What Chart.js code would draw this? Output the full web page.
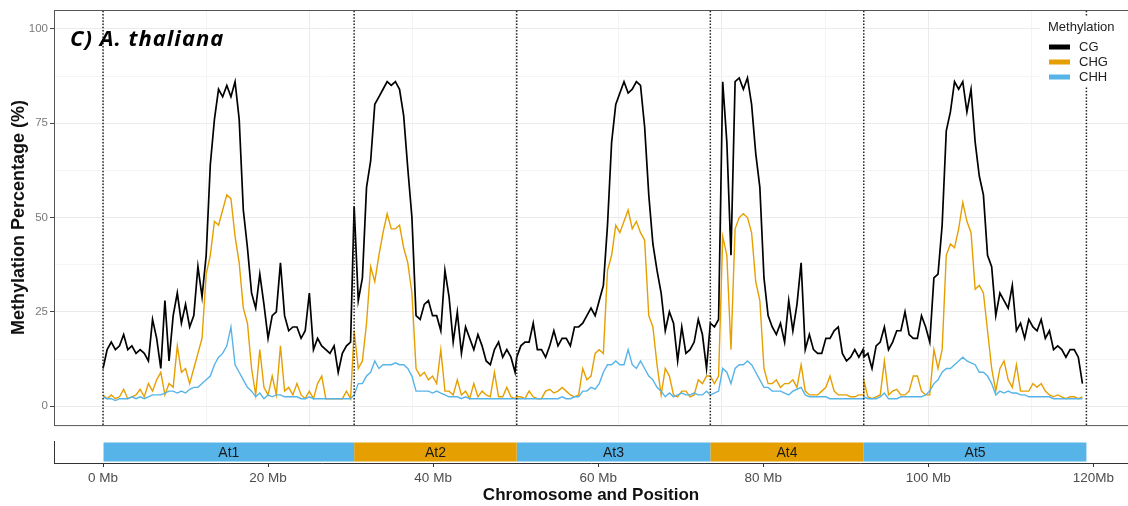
<!DOCTYPE html>
<html>
<head>
<meta charset="utf-8">
<script src="https://cdn.jsdelivr.net/npm/chart.js@4.4.1/dist/chart.umd.min.js"></script>
<style>
  body { margin: 0; background: #fff; }
  #wrap { position: relative; width: 1128px; height: 506px; }
  #mainChart { position: absolute; left: 0; top: 0; }
  #chromChart { position: absolute; left: 0; top: 430px; }
</style>
</head>
<body>
<div id="wrap">
  <canvas id="mainChart" width="1128" height="434"></canvas>
  <canvas id="chromChart" width="1128" height="76"></canvas>
</div>
<script>
// chromosomes (Mb)
var chromNames = ['At1', 'At2', 'At3', 'At4', 'At5'];
var chromStarts = [0, 30.43, 50.13, 73.59, 92.18];
var chromEnds = [30.43, 50.13, 73.59, 92.18, 119.16];
var chromColors = ['#56B4E9', '#E69F00', '#56B4E9', '#E69F00', '#56B4E9'];
var BIN_MB = 0.5;

// CG methylation (%) per chromosome, 0.5 Mb bins
var cgAt1 = [10,15,17,15,16,19,15,16,14,15, 14,12,23,18,10,28,12,24,30,22, 27,21,24,37,29,40,64,76,84,82, 85,82,86,76,52,42,30,26,35,27, 18,24,25,38,24,20,21,21,18,20, 30,15,18,16,15,14,16,9,14,16, 17];
var cgAt2 = [53,28,34,58,65,80,82,84,86,85, 86,84,77,63,50,24,23,27,28,24, 24,20,36,29,17,25,14,21,18,15, 19,16,12,11,15,17,13,15,13,9];
var cgAt3 = [13,16,17,17,22,15,15,13,16,20, 16,18,18,16,21,21,22,24,26,24, 28,32,48,70,80,83,86,83,84,86, 85,74,56,43,36,30,20,25,22,12, 21,14,15,17,23,19,10];
var cgAt4 = [22,21,23,86,70,40,86,87,84,87, 80,67,58,34,24,21,19,22,17,28, 20,27,38,15,19,15,14,14,18,18, 20,21,14,12,13,15,13,15];
var cgAt5 = [13,14,10,16,17,21,15,17,20,20, 25,19,18,18,24,21,17,34,35,48, 73,78,86,84,86,78,84,70,61,56, 40,37,24,30,28,26,32,20,22,18, 23,21,20,23,18,20,15,16,15,13, 15,15,13,6];

// CHG methylation (%)
var chgAt1 = [3,2,3,2,2.5,4.5,2,2.5,3,4.5, 2.5,6,4,7,9,3,6,5,16,9, 10,6,10,14,18,35,40,49,48,52, 56,55,45,38,26,22,10,3,15,5, 3,8,3,16,4,5,3,6,3,2, 4,2,6,8,2,2,2,2,2,4, 2];
var chgAt2 = [20,10,12,22,37,33,40,46,51,47, 47,48,42,38,30,10,8,9,7,8, 6,15,4,4,3,7,3,4,2,6, 2.5,4,3,2.5,9,2.5,2.5,5,2.5,2];
var chgAt3 = [2.5,2.5,2,4,2.5,2,2,4,4.5,3.5, 4,5,4,3,2.5,3,10,7,8,14, 15,14,36,40,48,46,49,52,47,49, 46,44,24,21,11,3,10,8,3,2.5, 4,4,2.5,3,7,6,8];
var chgAt4 = [8,6,8,45,40,15,47,50,51,50, 46,33,28,10,6,6,7,5,6,6, 7,5,11,4,3,3,3,4,5,8, 4,3,3,3,2.5,2.5,3,3];
var chgAt5 = [7,2.5,2,2.5,3,12,3,4,4.5,3, 3,4,8,8,4,3,3,15,10,15, 40,43,42,47,54,49,46,31,32,30, 20,10,4,10,12,7,5,11,4,4, 4,6,5,6,4,3,2.5,3,2.5,2, 2.5,2.5,2,2.5];

// CHH methylation (%)
var chhAt1 = [2.5,2,2,1.5,2,2,2,2.5,2,2.5, 2,2.5,3,3,3,3.5,4,4,3.5,4, 3.5,4.5,5,5,6,7,8,11,13,14, 16,21,11,9,7,5,4,2.5,3.5,2, 3,2.5,3,3,2.5,2.5,2.5,2.5,2,2, 2.5,2,2,2,2,2,2,2,2,2, 2];
var chhAt2 = [3,6,6,8,9,12,10,11,11,11, 11.5,11,11,10,8,4,4,4,4,3.5, 4,3.5,3,2.5,2.5,2.5,2,2.5,2,2, 2,2,2,2,2,2,2,2,2,2];
var chhAt3 = [2,2,2,2,2,2,2,2,2,2, 2,2.5,2,2,2.5,2.5,4,4,5,4.5, 6,9,11,11,12,11,11,15,11,10, 12,10,8,7,5,4,2.5,3.5,2.5,3, 3.5,3,3,3.5,3,3,4];
var chhAt4 = [3,3.5,4,10,9,6,10,11,11,12, 11,9,7,5,5,4,4,4,3.5,3, 4,4.5,5,3,2.5,2.5,2.5,2.5,2.5,2, 2,2,2,2,2,2,2,2];
var chhAt5 = [2.5,2,2,2,2.5,3.5,2,2,2,2.5, 2.5,2.5,2.5,2.5,2.5,3,4,6,7,9, 10,10,11,12,13,12,11.5,11,9,9, 8,6,3,4,3.5,4,3.5,3.5,3,3, 2.5,2.5,2.5,2.5,2.5,2.5,2,2,2,2, 2,2,2,2];

var seriesNames = ['CG', 'CHG', 'CHH'];
var seriesColors = ['#000000', '#E69F00', '#56B4E9'];

// axes
var yTickValues = [0, 25, 50, 75, 100];
var yGridValues = [0, 12.5, 25, 37.5, 50, 62.5, 75, 87.5, 100];
var xGridValues = [0, 12.5, 25, 37.5, 50, 62.5, 75, 87.5, 100, 112.5];
var xTickValues = [0, 20, 40, 60, 80, 100, 120];
var xTickLabels = ['0 Mb', '20 Mb', '40 Mb', '60 Mb', '80 Mb', '100 Mb', '120Mb'];
var X_MIN = -5.94, X_MAX = 124.2;
var Y_MIN = -5, Y_MAX = 105;

var FONT = '"Liberation Sans", Arial, sans-serif';
Chart.defaults.font.family = FONT;

function seriesPoints(perChrom) {
    var pts = [];
    perChrom.forEach(function (vals, c) {
        vals.forEach(function (v, i) {
            pts.push({ x: chromStarts[c] + i * BIN_MB, y: v });
        });
    });
    return pts;
}

var seriesData = [
    seriesPoints([cgAt1, cgAt2, cgAt3, cgAt4, cgAt5]),
    seriesPoints([chgAt1, chgAt2, chgAt3, chgAt4, chgAt5]),
    seriesPoints([chhAt1, chhAt2, chhAt3, chhAt4, chhAt5])
];

var datasets = seriesNames.map(function (name, i) {
    return {
        label: name,
        data: seriesData[i],
        borderColor: seriesColors[i],
        borderWidth: i === 0 ? 1.7 : 1.4,
        pointRadius: 0,
        tension: 0,
        order: 2 - i
    };
});

// dotted chromosome boundaries
[0].concat(chromEnds).forEach(function (b) {
    datasets.push({
        label: 'boundary',
        data: [{ x: b, y: Y_MIN }, { x: b, y: Y_MAX }],
        borderColor: '#222',
        borderWidth: 1.5,
        borderDash: [1.5, 1.7],
        pointRadius: 0,
        order: -1
    });
});

// panel border, title and legend
var panelDecor = {
    id: 'panelDecor',
    afterDraw: function (chart) {
        var ctx = chart.ctx, a = chart.chartArea;
        ctx.save();
        ctx.strokeStyle = '#555';
        ctx.lineWidth = 1;
        ctx.strokeRect(a.left + 0.5, a.top + 0.5, a.right - a.left + 5, a.bottom - a.top);

        ctx.font = 'italic bold 22px "Open Sans"';
        ctx.letterSpacing = '1px';
        ctx.fillStyle = '#000';
        ctx.textBaseline = 'middle';
        ctx.textAlign = 'left';
        ctx.fillText('C) A. thaliana', 70, 40);
        ctx.letterSpacing = '0px';

        // legend
        ctx.fillStyle = '#fff';
        ctx.fillRect(1040, 16, 88, 70);
        ctx.font = '13px ' + FONT;
        ctx.fillStyle = '#222';
        ctx.fillText('Methylation', 1048, 27);
        for (var i = 0; i < 3; i++) {
            var ds = chart.data.datasets[i];
            var ry = 47 + i * 15;
            ctx.fillStyle = ds.borderColor;
            ctx.fillRect(1049, ry - 2.5, 21, 5);
            ctx.fillStyle = '#222';
            ctx.fillText(ds.label, 1079, ry);
        }
        ctx.restore();
    }
};

new Chart(document.getElementById('mainChart'), {
    type: 'line',
    data: { datasets: datasets },
    options: {
        responsive: false,
        animation: false,
        events: [],
        layout: { padding: { top: 10, right: 0, bottom: 6, left: 0 } },
        plugins: { legend: { display: false }, tooltip: { enabled: false } },
        scales: {
            x: {
                type: 'linear',
                min: X_MIN,
                max: X_MAX,
                afterBuildTicks: function (s) { s.ticks = xGridValues.map(function (v) { return { value: v }; }); },
                afterFit: function (s) { s.height = 0; },
                ticks: { display: false },
                border: { display: false },
                grid: {
                    drawTicks: false,
                    color: function (c) { return c.tick.value % 25 === 0 ? '#ebebeb' : '#f4f4f4'; }
                }
            },
            y: {
                min: Y_MIN,
                max: Y_MAX,
                afterBuildTicks: function (s) { s.ticks = yGridValues.map(function (v) { return { value: v }; }); },
                afterFit: function (s) { s.width = 54; },
                ticks: {
                    padding: 2,
                    color: '#7a7a7a',
                    font: { size: 11.5 },
                    callback: function (v) { return yTickValues.indexOf(v) >= 0 ? String(v) : ''; }
                },
                border: { display: false },
                grid: {
                    tickLength: 4,
                    color: function (c) { return c.tick.value % 25 === 0 ? '#ebebeb' : '#f4f4f4'; },
                    tickColor: function (c) { return c.tick.value % 25 === 0 ? '#444' : 'rgba(0,0,0,0)'; }
                },
                title: {
                    display: true,
                    text: 'Methylation Percentage (%)',
                    color: '#111',
                    font: { size: 18, weight: 'bold' },
                    padding: { top: 8, bottom: 0 }
                }
            }
        }
    },
    plugins: [panelDecor]
});

// chromosome bar
var chromLabels = {
    id: 'chromLabels',
    afterDatasetsDraw: function (chart) {
        var ctx = chart.ctx;
        ctx.save();
        ctx.font = '14px ' + FONT;
        ctx.fillStyle = '#1a1a1a';
        ctx.textAlign = 'center';
        ctx.textBaseline = 'middle';
        chart.data.datasets.forEach(function (ds, i) {
            var bar = chart.getDatasetMeta(i).data[0];
            ctx.fillText(ds.label, (bar.x + bar.base) / 2, bar.y + 1);
        });
        ctx.restore();
    }
};

new Chart(document.getElementById('chromChart'), {
    type: 'bar',
    data: {
        labels: [''],
        datasets: chromNames.map(function (n, i) {
            return {
                label: n,
                data: [[chromStarts[i], chromEnds[i]]],
                backgroundColor: chromColors[i],
                borderWidth: 0,
                grouped: false,
                barPercentage: 0.86,
                categoryPercentage: 1
            };
        })
    },
    options: {
        indexAxis: 'y',
        responsive: false,
        animation: false,
        events: [],
        layout: { padding: { top: 11, right: 0, bottom: 0, left: 0 } },
        plugins: { legend: { display: false }, tooltip: { enabled: false } },
        scales: {
            x: {
                type: 'linear',
                min: X_MIN,
                max: X_MAX,
                afterBuildTicks: function (s) { s.ticks = xTickValues.map(function (v) { return { value: v }; }); },
                afterFit: function (s) { s.height = 43; },
                ticks: {
                    padding: 3,
                    color: '#4d4d4d',
                    font: { size: 13.5 },
                    maxRotation: 0,
                    autoSkip: false,
                    callback: function (v, i) { return xTickLabels[i]; }
                },
                border: { display: true, color: '#333', width: 1 },
                grid: { drawOnChartArea: false, tickLength: 4, tickColor: '#333' },
                title: {
                    display: true,
                    text: 'Chromosome and Position',
                    color: '#111',
                    font: { size: 17, weight: 'bold' },
                    padding: 0
                }
            },
            y: {
                afterFit: function (s) { s.width = 54; },
                ticks: { display: false },
                grid: { display: false },
                border: { display: true, color: '#333', width: 1 }
            }
        }
    },
    plugins: [chromLabels]
});
</script>
</body>
</html>
